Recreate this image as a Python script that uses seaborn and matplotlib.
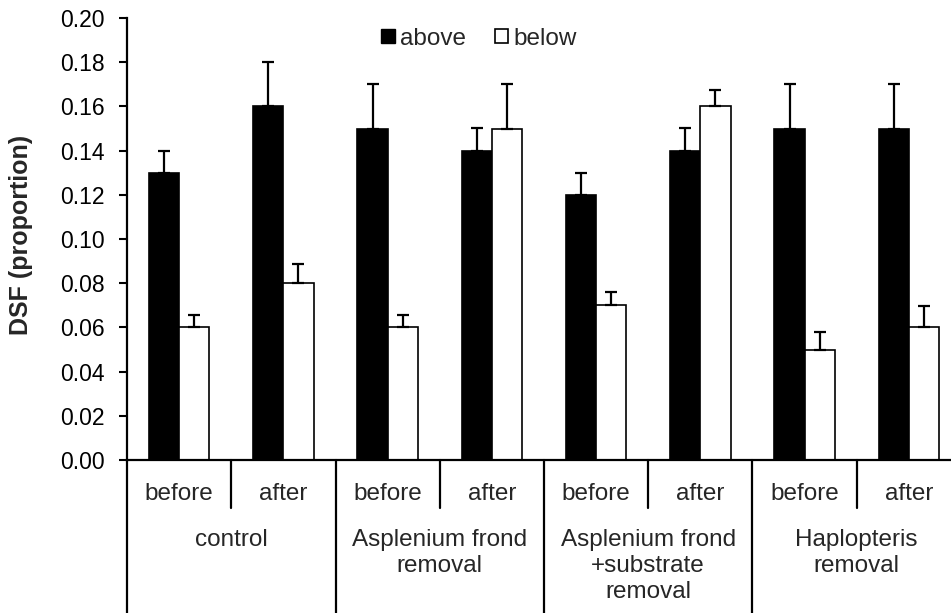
import matplotlib
matplotlib.use("Agg")
import matplotlib.pyplot as plt
import matplotlib.transforms as mtrans
from matplotlib.patches import Patch
import numpy as np
import pandas as pd
import seaborn as sns

# ---- data ----
groups = ["control", "Asplenium frond\nremoval",
          "Asplenium frond\n+substrate\nremoval", "Haplopteris\nremoval"]
phases = ["before", "after"]
above = [0.13, 0.16, 0.15, 0.14, 0.12, 0.14, 0.15, 0.15]
above_err = [0.01, 0.02, 0.02, 0.01, 0.01, 0.01, 0.02, 0.02]
below = [0.06, 0.08, 0.06, 0.15, 0.07, 0.16, 0.05, 0.06]
below_err = [0.0055, 0.0088, 0.0055, 0.02, 0.006, 0.0075, 0.008, 0.0095]
yticks = [0.00, 0.02, 0.04, 0.06, 0.08, 0.10, 0.12, 0.14, 0.16, 0.18, 0.20]

slots = [f"{g}|{p}" for g in groups for p in phases]
df = pd.DataFrame({
    "slot": slots * 2,
    "position": ["above"] * len(slots) + ["below"] * len(slots),
    "DSF": above + below,
})

sns.set_style("ticks")
plt.rcParams["font.family"] = ["Liberation Sans", "DejaVu Sans"]

W, H = 951, 613
fig = plt.figure(figsize=(W / 100, H / 100), dpi=100)
x0, x1, ytop, ybot = 127, 961, 18, 460
ax = fig.add_axes([x0 / W, (H - ybot) / H, (x1 - x0) / W, (ybot - ytop) / H])

sns.barplot(data=df, x="slot", y="DSF", hue="position", order=slots,
            hue_order=["above", "below"],
            palette={"above": "black", "below": "white"},
            width=0.58, edgecolor="black", linewidth=1.2,
            errorbar=None, legend=False, ax=ax)

# error bars (upper only)
for cont, errs in zip(ax.containers, [above_err, below_err]):
    xs = [b.get_x() + b.get_width() / 2 for b in cont]
    hs = [b.get_height() for b in cont]
    ax.errorbar(xs, hs, yerr=[np.zeros(len(errs)), errs], fmt="none",
                ecolor="black", elinewidth=1.6, capsize=4.6, capthick=1.6,
                zorder=1)

ax.set_xlim(-0.5, len(slots) - 0.5)
ax.set_ylim(0, 0.20)
ax.set_yticks(yticks)
ax.set_yticklabels([f"{v:.2f}" for v in yticks])
ax.tick_params(axis="y", direction="out", length=6, width=1.5,
               labelsize=16.5, pad=10, colors="black")
ax.tick_params(axis="x", length=0, labelbottom=False)
ax.set_xlabel("")
ax.set_ylabel("DSF (proportion)", fontsize=18, fontweight="bold")
ax.yaxis.set_label_coords(-0.113, 0.51)
sns.despine(ax=ax)
for s in ["left", "bottom"]:
    ax.spines[s].set_linewidth(1.6)
    ax.spines[s].set_color("black")

# hierarchical category axis
FS = 17.5
tr = mtrans.blended_transform_factory(ax.transData, ax.transAxes)
short_y = (ybot - 508) / (ybot - ytop)
long_y = (ybot - 640) / (ybot - ytop)
for i in range(len(slots) + 1):
    xb = i - 0.5
    ylow = long_y if i % 2 == 0 else short_y
    ax.plot([xb, xb], [0, ylow], color="black", lw=1.6, transform=tr,
            clip_on=False)
for i, s in enumerate(slots):
    ax.text(i, (ybot - 494) / (ybot - ytop), s.split("|")[1], transform=tr,
            ha="center", va="center", fontsize=FS)
for gi, g in enumerate(groups):
    ax.text(2 * gi + 0.5, (ybot - 529) / (ybot - ytop), g, transform=tr,
            ha="center", va="top", fontsize=FS, linespacing=1.25)

handles = [Patch(facecolor="black", edgecolor="black", label="above"),
           Patch(facecolor="white", edgecolor="black", linewidth=1.2, label="below")]
ax.legend(handles=handles, loc="center", bbox_to_anchor=(0.422, 0.953),
          ncol=2, frameon=False, fontsize=FS, handlelength=0.55,
          handleheight=0.55, handletextpad=0.2, columnspacing=1.2,
          borderaxespad=0)

fig.savefig("out.png", dpi=100)
